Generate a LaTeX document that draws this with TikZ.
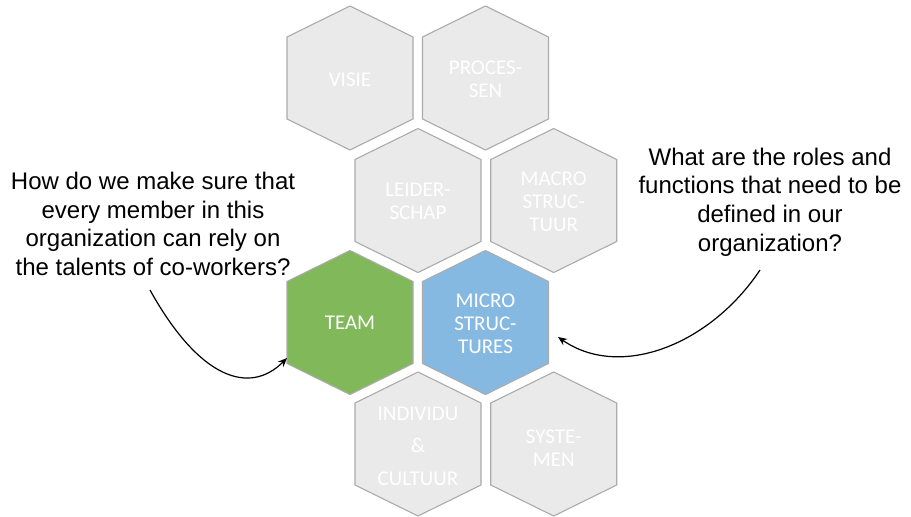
\documentclass[tikz,border=0pt]{standalone}
\usepackage{fontspec}
\setmainfont{Liberation Sans}
\newfontfamily\hexfont{Carlito}
\usetikzlibrary{arrows.meta,calc}
\definecolor{hexgray}{HTML}{EAEAEA}
\definecolor{hexline}{HTML}{ABABAB}
\definecolor{teamgreen}{HTML}{80B85A}
\definecolor{microblue}{HTML}{86B9E1}
\newcommand\hexshape[3]{%
  \draw[hexbox, fill=#3, shift={(#1,#2)}] (0,-72) -- (63,-41) -- (63,41) -- (0,72) -- (-63,41) -- (-63,-41) -- cycle;}
\begin{document}
\begin{tikzpicture}[x=1pt,y=-1pt,
  hexbox/.style={draw=hexline, line width=1.1pt, line join=miter},
  hextext/.style={text=white, font=\hexfont\fontsize{21}{23}\selectfont, align=center, inner sep=0pt},
  question/.style={text=black, font=\fontsize{24}{28.8}\selectfont, align=center, inner sep=0pt},
  callarrow/.style={draw=black, line width=1.2pt, -{Stealth[length=9pt,width=7.5pt]}}]
\useasboundingbox (0,0) rectangle (911,517);
% hexagons
\hexshape{350}{78}{hexgray}
\hexshape{485.5}{78}{hexgray}
\hexshape{418}{200.5}{hexgray}
\hexshape{553.7}{200.5}{hexgray}
\hexshape{350}{322.5}{teamgreen}
\hexshape{485.5}{322.5}{microblue}
\hexshape{418}{444}{hexgray}
\hexshape{553.7}{444}{hexgray}
% labels
\node[hextext] (visie) at (350,80) {VISIE};
\node[hextext] (processen) at (485.5,79.5) {PROCES-\\SEN};
\node[hextext] (leiderschap) at (418,201) {LEIDER-\\SCHAP};
\node[hextext] (macro) at (553.7,202) {MACRO\\STRUC-\\TUUR};
\node[hextext] (team) at (350,322.5) {TEAM};
\node[hextext] (micro) at (485.5,324) {MICRO\\STRUC-\\TURES};
\node[hextext, font=\hexfont\fontsize{21}{32.5}\selectfont] (individu) at (418,446) {INDIVIDU\\\&\\CULTUUR};
\node[hextext] (systemen) at (553.7,448) {SYSTE-\\MEN};
% questions
\node[question] (q1) at (153,224) {How do we make sure that\\every member in this\\organization can rely on\\the talents of co-workers?};
\node[question] (q2) at (770,202) {What are the roles and\\functions that need to be\\defined in our\\organization?};
% arrows
\coordinate (q1start) at (150,290);
\coordinate (q2start) at (760,270);
\draw[callarrow] (q1start) .. controls (200,380) and (250,395) .. ($(team)+(-63,35.5)$);
\draw[callarrow] (q2start) .. controls (710,345) and (620,380) .. ($(micro)+(72.5,13)$);
\end{tikzpicture}
\end{document}
